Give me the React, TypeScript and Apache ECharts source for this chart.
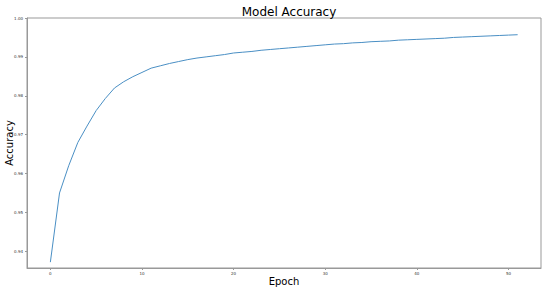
import React, { useEffect, useRef } from "react";
import * as echarts from "echarts";

const epochs: number[] = Array.from({ length: 52 }, (_, i) => i);
const accuracy: number[] = [
  0.9372, 0.955, 0.962, 0.968, 0.9722, 0.9762, 0.9793, 0.982, 0.9836, 0.9849,
  0.986, 0.9871, 0.9877, 0.9883, 0.9888, 0.9893, 0.9897, 0.99, 0.9903, 0.9906,
  0.991, 0.9912, 0.9914, 0.9917, 0.9919, 0.9921, 0.9923, 0.9925, 0.9927, 0.9929,
  0.9931, 0.9933, 0.9934, 0.9936, 0.9937, 0.9939, 0.994, 0.9941, 0.9943, 0.9944,
  0.9945, 0.9946, 0.9947, 0.9948, 0.995, 0.9951, 0.9952, 0.9953, 0.9954, 0.9955,
  0.9956, 0.9957,
];
const xTicks: number[] = [0, 10, 20, 30, 40, 50];
const yTicks: number[] = [0.94, 0.95, 0.96, 0.97, 0.98, 0.99, 1.0];

const FONT = "DejaVu Sans";

export default function App() {
  const ref = useRef<HTMLDivElement>(null);
  useEffect(() => {
    if (!ref.current) return;
    const chart = echarts.init(ref.current, null, { renderer: "svg" });
    chart.setOption({
      animation: false,
      backgroundColor: "#ffffff",
      title: {
        text: "Model Accuracy",
        left: 284,
        textAlign: "center",
        top: 1,
        textStyle: { fontFamily: FONT, fontSize: 12, fontWeight: "normal", color: "#000" },
      },
      grid: {
        left: 27,
        top: 18,
        right: 9,
        bottom: 22,
        containLabel: false,
        outerBoundsMode: "none",
        show: true,
        borderColor: "#999",
        borderWidth: 1,
        backgroundColor: "transparent",
      },
      graphic: [
        {
          type: "text",
          x: 9,
          y: 143,
          rotation: Math.PI / 2,
          style: {
            text: "Accuracy",
            font: `10px "${FONT}"`,
            fill: "#000",
            align: "center",
            verticalAlign: "middle",
          },
        },
        {
          type: "text",
          x: 284,
          y: 281,
          style: {
            text: "Epoch",
            font: `10px "${FONT}"`,
            fill: "#000",
            align: "center",
            verticalAlign: "middle",
          },
        },
      ],
      xAxis: {
        type: "value",
        min: -2.55,
        max: 53.55,
        axisLine: { show: true, onZero: false, lineStyle: { color: "#999", width: 1 } },
        axisTick: { show: true, length: 2, customValues: xTicks, lineStyle: { color: "#999" } },
        axisLabel: {
          customValues: xTicks,
          fontFamily: FONT,
          fontSize: 4,
          color: "#333",
          margin: 3,
          formatter: (v: number) => String(v),
        },
        splitLine: { show: false },
      },
      yAxis: {
        type: "value",
        min: 0.9357,
        max: 1.0,
        axisLine: { show: true, onZero: false, lineStyle: { color: "#999", width: 1 } },
        axisTick: { show: true, length: 2, customValues: yTicks, lineStyle: { color: "#999" } },
        axisLabel: {
          customValues: yTicks,
          fontFamily: FONT,
          fontSize: 4,
          color: "#333",
          margin: 4,
          formatter: (v: number) => v.toFixed(2),
        },
        splitLine: { show: false },
      },
      series: [
        {
          type: "line",
          data: epochs.map((e, i) => [e, accuracy[i]]),
          showSymbol: false,
          symbol: "none",
          lineStyle: { color: "#4a8fc4", width: 1 },
        },
      ],
    });
    return () => chart.dispose();
  }, []);
  return (
    <div
      ref={ref}
      style={{ position: "fixed", left: 0, top: 0, width: 550, height: 290 }}
    />
  );
}
